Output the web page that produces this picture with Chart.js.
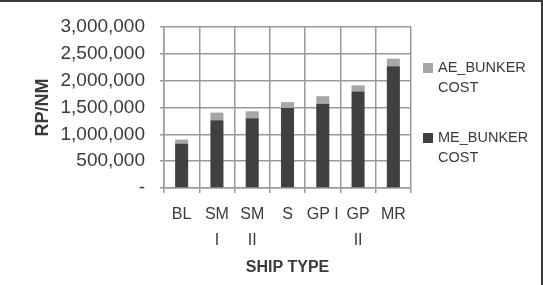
<!DOCTYPE html>
<html>
<head>
<meta charset="utf-8">
<script src="https://cdn.jsdelivr.net/npm/chart.js@4/dist/chart.umd.min.js"></script>
<style>
  body { margin: 0; background: #fff; }
  #wrap { position: relative; width: 543px; height: 285px; }
  #frame {
    position: absolute; left: 0; top: 0; width: 543px; height: 285px;
    box-sizing: border-box; border-top: 2px solid #3a3a3a; border-right: 2px solid #3a3a3a;
    pointer-events: none;
  }
  .legend-item { position: absolute; left: 423px; font: 14.5px "Liberation Sans", Arial, sans-serif; color: #3a3a3a; }
  .legend-item .box { position: absolute; left: 0; top: 6px; width: 10px; height: 10px; }
  .legend-item .txt { position: absolute; left: 15px; top: 0; line-height: 20px; white-space: nowrap; }
</style>
</head>
<body>
<div id="wrap">
  <canvas id="shipChart" width="543" height="285"></canvas>
  <div id="legend"></div>
  <div id="frame"></div>
</div>
<script>
  'use strict';

  // Ship types (wrapped like the original labels)
  const shipTypes = ['BL', ['SM', 'I'], ['SM', 'II'], 'S', 'GP I', ['GP', 'II'], 'MR'];

  // Bunker cost per nautical mile
  const meBunkerCost = [827000, 1261000, 1299000, 1490000, 1570000, 1796000, 2268000];
  const aeBunkerCost = [75000, 144000, 131000, 110000, 140000, 118000, 142000];

  const yTicks = [0, 500000, 1000000, 1500000, 2000000, 2500000, 3000000];

  const colors = {
    me: '#404040',
    ae: '#a6a6a6',
    grid: '#999999',
    text: '#3a3a3a'
  };

  const fontFamily = '"Liberation Sans", Arial, sans-serif';

  const datasets = [
    { label: 'ME_BUNKER COST', data: meBunkerCost, backgroundColor: colors.me },
    { label: 'AE_BUNKER COST', data: aeBunkerCost, backgroundColor: colors.ae }
  ];

  // Legend on the right, lines wrapped as in the original
  const legendRows = [
    { lines: ['AE_BUNKER', 'COST'], color: colors.ae, top: 57 },
    { lines: ['ME_BUNKER', 'COST'], color: colors.me, top: 127 }
  ];
  const legendEl = document.getElementById('legend');
  legendRows.forEach(row => {
    const item = document.createElement('div');
    item.className = 'legend-item';
    item.style.top = row.top + 'px';
    const box = document.createElement('span');
    box.className = 'box';
    box.style.background = row.color;
    const txt = document.createElement('div');
    txt.className = 'txt';
    txt.innerHTML = row.lines.join('<br>');
    item.appendChild(box);
    item.appendChild(txt);
    legendEl.appendChild(item);
  });

  const ctx = document.getElementById('shipChart').getContext('2d');
  new Chart(ctx, {
    type: 'bar',
    data: {
      labels: shipTypes,
      datasets: datasets.map(d => ({
        ...d,
        barPercentage: 0.37,
        categoryPercentage: 1.0
      }))
    },
    options: {
      responsive: false,
      animation: false,
      layout: { padding: { left: 0, right: 132, top: 27, bottom: 0 } },
      plugins: {
        legend: { display: false },
        tooltip: { enabled: false }
      },
      scales: {
        x: {
          stacked: true,
          afterFit: scale => { scale.height = 97; },
          grid: { color: colors.grid, offset: true, tickLength: 5, lineWidth: 1.5 },
          border: { color: colors.grid, width: 1.5 },
          ticks: {
            color: colors.text,
            padding: 9,
            maxRotation: 0,
            autoSkip: false,
            font: { family: fontFamily, size: 16, lineHeight: 1.6 }
          },
          title: {
            display: true,
            text: 'SHIP TYPE',
            color: colors.text,
            padding: { top: 0, bottom: 8 },
            font: { family: fontFamily, size: 16, weight: 'bold' }
          }
        },
        y: {
          stacked: true,
          min: 0,
          max: 3000000,
          afterFit: scale => { scale.width = 164; },
          afterBuildTicks: scale => { scale.ticks = yTicks.map(v => ({ value: v })); },
          grid: { color: colors.grid, tickLength: 4, lineWidth: 1.5 },
          border: { color: colors.grid, width: 1.5 },
          ticks: {
            color: colors.text,
            padding: 15,
            font: { family: fontFamily, size: 19 },
            callback: v => v === 0 ? '-' : v.toLocaleString('en-US')
          },
          title: {
            display: true,
            text: 'RP/NM',
            color: colors.text,
            padding: { top: 32, bottom: 0 },
            font: { family: fontFamily, size: 18, weight: 'bold' }
          }
        }
      }
    }
  });
</script>
</body>
</html>
